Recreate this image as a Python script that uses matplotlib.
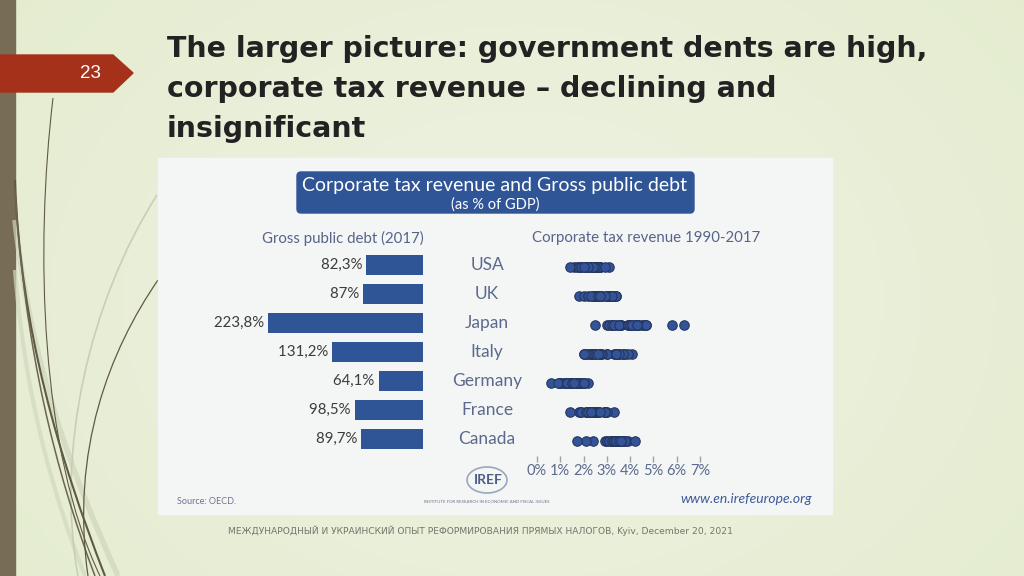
import matplotlib
matplotlib.use("Agg")
import matplotlib.pyplot as plt
import numpy as np
from matplotlib.patches import Polygon, FancyBboxPatch, Rectangle, PathPatch, Ellipse
from matplotlib.path import Path

# ---------------- data ----------------
countries = ["USA", "UK", "Japan", "Italy", "Germany", "France", "Canada"]
debt_2017 = [82.3, 87.0, 223.8, 131.2, 64.1, 98.5, 89.7]
debt_labels = ["82,3%", "87%", "223,8%", "131,2%", "64,1%", "98,5%", "89,7%"]

# corporate tax revenue, % of GDP, 1990-2017
tax_usa = [2.4, 2.2, 2.3, 2.5, 2.6, 2.7, 2.7, 2.7, 2.6, 2.5, 2.5, 1.9, 1.6, 1.7,
           2.1, 2.6, 3.1, 2.9, 2.1, 1.4, 1.8, 1.9, 2.1, 2.3, 2.5, 2.4, 2.2, 2.0]
tax_uk = [3.4, 2.6, 1.8, 2.0, 2.2, 2.7, 3.0, 3.2, 3.3, 3.2, 3.2, 3.1, 2.7, 2.5,
          2.6, 3.1, 3.4, 3.0, 3.2, 2.4, 2.8, 2.9, 2.6, 2.5, 2.4, 2.3, 2.6, 2.7]
tax_japan = [6.3, 5.8, 4.7, 4.5, 4.3, 4.4, 4.3, 4.1, 3.6, 3.2, 3.6, 3.4, 3.0, 3.1,
             3.5, 4.2, 4.6, 4.7, 3.9, 2.5, 3.2, 3.3, 3.5, 3.9, 4.1, 4.0, 4.1, 4.3]
tax_italy = [3.8, 3.7, 3.5, 4.1, 3.3, 3.4, 3.9, 3.7, 2.7, 3.0, 2.3, 3.0, 2.7, 2.3,
             2.3, 2.4, 2.7, 3.5, 3.4, 2.8, 2.7, 2.5, 2.5, 2.6, 2.2, 2.0, 2.1, 2.0]
tax_germany = [1.7, 1.4, 1.2, 1.0, 1.1, 1.0, 1.3, 1.5, 1.6, 1.8, 1.8, 0.6, 0.9, 1.3,
               1.4, 1.7, 2.0, 2.2, 1.9, 1.3, 1.5, 1.7, 1.8, 1.8, 1.7, 1.6, 2.0, 2.0]
tax_france = [2.2, 2.2, 1.8, 1.4, 1.9, 2.1, 2.3, 2.6, 2.5, 2.9, 2.9, 3.3, 2.9, 2.3,
              2.6, 2.4, 2.9, 3.0, 2.9, 1.9, 2.1, 2.5, 2.6, 2.7, 2.3, 2.2, 2.3, 2.3]
tax_canada = [2.4, 2.1, 1.7, 2.9, 3.0, 3.2, 3.5, 3.9, 3.7, 3.8, 4.2, 3.6, 3.2, 3.3,
              3.4, 3.4, 3.8, 3.6, 3.5, 3.2, 3.2, 3.1, 3.2, 3.3, 3.3, 3.4, 3.5, 3.6]
tax_series = [tax_usa, tax_uk, tax_japan, tax_italy, tax_germany, tax_france, tax_canada]
tax_ticks = [0, 1, 2, 3, 4, 5, 6, 7]
tax_ticklabels = ["0%", "1%", "2%", "3%", "4%", "5%", "6%", "7%"]

title_lines = ["The larger picture: government dents are high,",
               "corporate tax revenue \u2013 declining and",
               "insignificant"]
footer = ("\u041c\u0415\u0416\u0414\u0423\u041d\u0410\u0420\u041e\u0414\u041d\u042b\u0419 \u0418 "
          "\u0423\u041a\u0420\u0410\u0418\u041d\u0421\u041a\u0418\u0419 \u041e\u041f\u042b\u0422 "
          "\u0420\u0415\u0424\u041e\u0420\u041c\u0418\u0420\u041e\u0412\u0410\u041d\u0418\u042f "
          "\u041f\u0420\u042f\u041c\u042b\u0425 \u041d\u0410\u041b\u041e\u0413\u041e\u0412, "
          "Kyiv, December 20, 2021")

# ---------------- figure ----------------
W, H = 1024, 576
fig = plt.figure(figsize=(W / 100, H / 100), dpi=100)

def fx(x):
    return x / W

def fy(y):
    return 1 - y / H

# background gradient
bg = fig.add_axes([0, 0, 1, 1])
bg.set_xlim(0, W)
bg.set_ylim(H, 0)
bg.axis("off")
yy, xx = np.mgrid[0:H:4, 0:W:4]
d = np.sqrt(((xx - 520) / 850.0) ** 2 + ((yy - 300) / 650.0) ** 2)
c_in = np.array([0.935, 0.950, 0.890])
c_out = np.array([0.885, 0.920, 0.790])
t = np.clip(d, 0, 1)[..., None]
img = c_in * (1 - t) + c_out * t
bg.imshow(img, extent=[0, W, H, 0], aspect="auto", zorder=0)

# left strip
bg.add_patch(Rectangle((0, 0), 15, H, color="#776d55", zorder=1))

# decorative curves
def curve(pts, color, lw, alpha=1.0):
    codes = [Path.MOVETO, Path.CURVE4, Path.CURVE4, Path.CURVE4]
    bg.add_patch(PathPatch(Path(pts, codes), fill=False, edgecolor=color,
                           lw=lw, alpha=alpha, zorder=1.5))

curve([(15, 220), (30, 360), (70, 470), (118, 576)], "#cfd6bb", 4, 0.7)
curve([(15, 270), (25, 400), (55, 500), (85, 576)], "#d2d8bf", 3, 0.7)
curve([(157, 195), (90, 300), (55, 450), (78, 576)], "#c6ccb0", 1.2, 0.9)
curve([(53, 98), (35, 250), (40, 450), (100, 576)], "#5f5a42", 0.8)
curve([(15, 180), (20, 330), (60, 460), (105, 576)], "#5f5a42", 1.5)
curve([(15, 190), (25, 350), (55, 470), (95, 576)], "#6a654c", 1.1)
curve([(158, 280), (110, 350), (70, 450), (88, 576)], "#5f5a42", 0.9)

# red tag
bg.add_patch(Polygon([(0, 55), (113, 55), (133, 73), (113, 92), (0, 92)],
                     closed=True, color="#a5311a", zorder=2))
bg.text(90, 74, "23", color="white", fontsize=13.5, ha="center", va="center",
        family="Liberation Sans", zorder=3)

# title
for i, line in enumerate(title_lines):
    bg.text(167, 57 + i * 40, line, fontsize=20.5, fontweight="bold",
            color="#222222", ha="left", va="baseline", family="DejaVu Sans",
            zorder=3)

# chart panel
bg.add_patch(Rectangle((158, 158), 674, 356, color="#f4f5f5", zorder=2))

# header box
bg.add_patch(FancyBboxPatch((297, 172), 397, 41,
                            boxstyle="round,pad=0,rounding_size=4",
                            facecolor="#2f5597", edgecolor="#2f5597", zorder=3))
bg.text(495, 186, "Corporate tax revenue and Gross public debt", color="white",
        fontsize=14, ha="center", va="center", family="Lato", zorder=4)
bg.text(495, 205, "(as % of GDP)", color="white", fontsize=10.5,
        ha="center", va="center", family="Lato", zorder=4)

sub_col = "#56648a"
bg.text(343, 238, "Gross public debt (2017)", color=sub_col, fontsize=10.8,
        ha="center", va="center", family="Lato", zorder=4)
bg.text(646, 238, "Corporate tax revenue 1990-2017", color=sub_col, fontsize=10.8,
        ha="center", va="center", family="Lato", zorder=4)

# source / logo / url
bg.text(177, 501, "Source: OECD.", color="#6b7590", fontsize=6.5,
        ha="left", va="center", family="Lato", zorder=4)
bg.add_patch(Ellipse((487, 480), 40, 26, fill=False, ec="#9aa7c0", lw=1.2, zorder=4))
bg.text(488, 480, "IREF", color="#4b5f8a", fontsize=10, fontweight="bold",
        ha="center", va="center", family="Lato", zorder=5)
bg.text(487, 502, "INSTITUTE FOR RESEARCH IN ECONOMIC AND FISCAL ISSUES",
        color="#6b7590", fontsize=3.2, ha="center", va="center",
        family="Lato", zorder=4)
bg.text(812, 499, "www.en.irefeurope.org", color="#3e5a99", fontsize=10,
        style="italic", ha="right", va="center", family="Lato", zorder=4)

# footer
bg.text(480, 531, footer, color="#74776a", fontsize=6.6, ha="center",
        va="center", family="DejaVu Sans", zorder=4)

# ---------------- plots ----------------
row_top, row_h = 250.5, 29.0
n = len(countries)
ax_top = row_top
ax_bot = row_top + n * row_h

bar_col = "#2f5597"
axL = fig.add_axes([fx(268), fy(ax_bot), fx(423) - fx(268), (ax_bot - ax_top) / H])
ypos = np.arange(n)
axL.barh(ypos, debt_2017, height=0.69, color=bar_col)
axL.set_xlim(max(debt_2017), 0)
axL.set_ylim(n - 0.5, -0.5)
axL.axis("off")
for yv, v, lab in zip(ypos, debt_2017, debt_labels):
    axL.text(v, yv, lab + " ", ha="right", va="center", fontsize=10.8,
             color="#3c3c3c", family="Lato")
for yv, c in zip(ypos, countries):
    axL.text(1.0 + 64 / 155, yv, c, transform=axL.get_yaxis_transform(),
             ha="center", va="center", fontsize=12.5, color="#5b6a8c",
             family="Lato")

axR = fig.add_axes([fx(537), fy(ax_bot + 2), fx(700) - fx(537), (ax_bot - ax_top) / H])
for yv, vals in zip(ypos, tax_series):
    axR.plot(vals, [yv] * len(vals), "o", ms=6.8, mfc="#34549a", mec="#24365f",
             mew=0.8, clip_on=False, ls="none")
axR.set_xlim(0, 7)
axR.set_ylim(n - 0.5, -0.5)
for s in axR.spines.values():
    s.set_visible(False)
axR.set_yticks([])
axR.set_xticks(tax_ticks)
axR.set_xticklabels(tax_ticklabels, fontsize=10.5, color="#5b6a8c", family="Lato")
axR.tick_params(axis="x", length=4, width=1, color="#9aa0ad", pad=2)
axR.set_facecolor("none")

fig.savefig("out.png", dpi=100)
